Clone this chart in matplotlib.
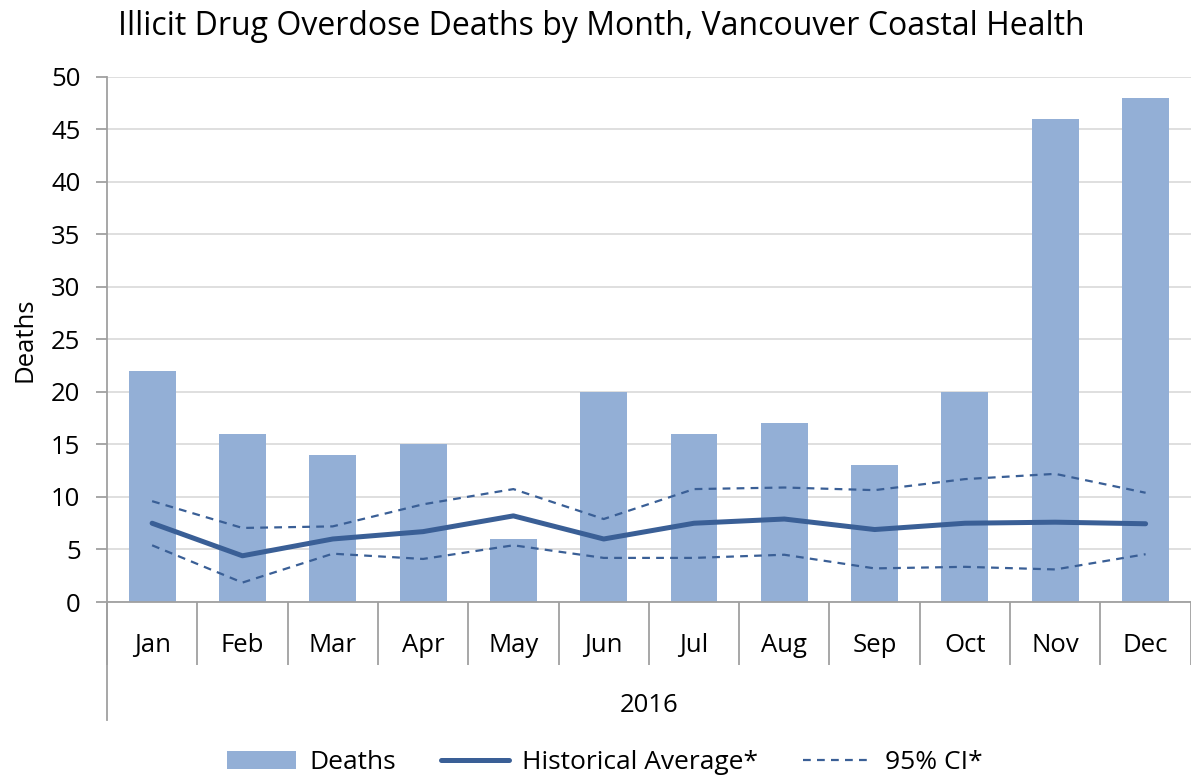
import matplotlib
matplotlib.use("Agg")
import matplotlib.pyplot as plt
import matplotlib.transforms as mtransforms
import numpy as np

plt.rcParams['font.family'] = ['Open Sans', 'DejaVu Sans']

months = ['Jan', 'Feb', 'Mar', 'Apr', 'May', 'Jun', 'Jul', 'Aug', 'Sep', 'Oct', 'Nov', 'Dec']
deaths = [22, 16, 14, 15, 6, 20, 16, 17, 13, 20, 46, 48]
hist_avg = [7.5, 4.4, 6.0, 6.7, 8.2, 6.0, 7.5, 7.9, 6.9, 7.5, 7.6, 7.45]
ci_upper = [9.6, 7.05, 7.2, 9.3, 10.75, 7.9, 10.75, 10.9, 10.65, 11.7, 12.2, 10.4]
ci_lower = [5.4, 1.85, 4.6, 4.1, 5.4, 4.2, 4.2, 4.5, 3.2, 3.35, 3.1, 4.55]
year_label = '2016'

bar_color = '#93AFD6'
line_color = '#3A5F96'
axis_gray = '#A0A0A0'
grid_gray = '#D9D9D9'
fs = 18.5

fig = plt.figure(figsize=(11.91, 7.77), dpi=100)
ax = fig.add_axes([0.0898, 0.2252, 0.91, 0.676])

x = np.arange(len(months))
bars = ax.bar(x, deaths, width=0.52, color=bar_color, label='Deaths', zorder=2)
avg_line, = ax.plot(x, hist_avg, color=line_color, lw=3.6, solid_capstyle='round',
                    label='Historical Average*', zorder=3)
ci_line, = ax.plot(x, ci_upper, color=line_color, lw=1.6, ls=(0, (3.5, 2.8)), label='95% CI*', zorder=3)
ax.plot(x, ci_lower, color=line_color, lw=1.6, ls=(0, (3.5, 2.8)), zorder=3)

ax.set_xlim(-0.5, 11.35)
ax.set_ylim(0, 50)
ax.set_yticks(range(0, 51, 5))
ax.yaxis.grid(True, color=grid_gray, lw=1.2, zorder=0)
ax.set_axisbelow(True)

for s in ['top', 'right']:
    ax.spines[s].set_visible(False)
for s in ['left', 'bottom']:
    ax.spines[s].set_color(axis_gray)
    ax.spines[s].set_linewidth(1.3)

ax.tick_params(axis='y', length=8, width=1.3, color=axis_gray, pad=11, labelsize=fs)
ax.set_xticks(x)
ax.set_xticklabels(months)
ax.tick_params(axis='x', which='major', length=0, pad=22, labelsize=fs)
ax.set_xticks(np.arange(-0.5, 12, 1), minor=True)
ax.tick_params(axis='x', which='minor', length=45, width=1.3, color=axis_gray)

# extend left spine down to enclose the year group
trans = mtransforms.blended_transform_factory(ax.transData, ax.transAxes)
ax.plot([-0.5, -0.5], [0, -0.225], transform=trans, color=axis_gray, lw=1.3, clip_on=False)
ax.text(5.5, -0.197, year_label, transform=trans, ha='center', va='center', fontsize=fs)

ax.set_ylabel('Deaths', fontsize=fs, labelpad=10)
fig.suptitle('Illicit Drug Overdose Deaths by Month, Vancouver Coastal Health',
             fontsize=23, x=0.505, y=0.987)

fig.legend([bars, avg_line, ci_line], ['Deaths', 'Historical Average*', '95% CI*'],
           loc='lower center', bbox_to_anchor=(0.508, -0.028), ncol=3, frameon=False,
           fontsize=19, handlelength=2.6, columnspacing=1.7, handletextpad=0.5)

fig.savefig('out.png', dpi=100)
